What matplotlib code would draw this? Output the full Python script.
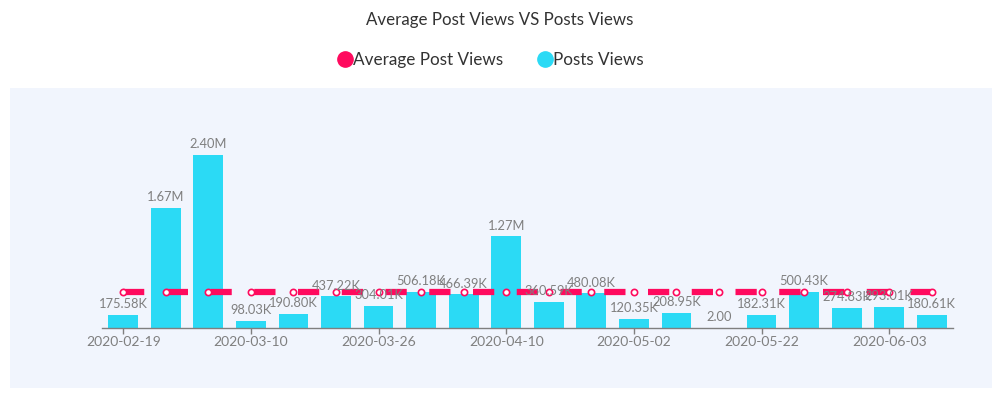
import matplotlib
matplotlib.use("Agg")
import matplotlib.pyplot as plt
from matplotlib.patches import Rectangle
from matplotlib.lines import Line2D
import numpy as np

dates = ["2020-02-19", "2020-02-26", "2020-03-03", "2020-03-10", "2020-03-14",
         "2020-03-19", "2020-03-26", "2020-03-30", "2020-04-05", "2020-04-10",
         "2020-04-16", "2020-04-24", "2020-05-02", "2020-05-09", "2020-05-16",
         "2020-05-22", "2020-05-27", "2020-05-30", "2020-06-03", "2020-06-08"]
posts_views = [175.58e3, 1.67e6, 2.40e6, 98.03e3, 190.80e3, 437.22e3, 304.01e3,
               506.18e3, 466.39e3, 1.27e6, 360.59e3, 480.08e3, 120.35e3, 208.95e3,
               2.00, 182.31e3, 500.43e3, 274.83e3, 293.01e3, 180.61e3]
avg_views = [505.97e3] * 20
labels = ["175.58K", "1.67M", "2.40M", "98.03K", "190.80K", "437.22K", "304.01K",
          "506.18K", "466.39K", "1.27M", "360.59K", "480.08K", "120.35K", "208.95K",
          "2.00", "182.31K", "500.43K", "274.83K", "293.01K", "180.61K"]
tick_idx = [0, 3, 6, 9, 12, 15, 18]

plt.rcParams['font.family'] = ['Lato', 'DejaVu Sans']

W, H = 1000, 394
fig = plt.figure(figsize=(W / 100, H / 100), dpi=100)
fig.patch.set_facecolor("white")

# panel background
bg = Rectangle((10 / W, 1 - 388 / H), 982 / W, 300 / H,
               transform=fig.transFigure, facecolor="#F1F5FD",
               edgecolor="none", zorder=-10)
fig.patches.append(bg)

ymax = 2.8e6
top_px = 328 - 2.8 * 72.1
ax = fig.add_axes([102 / W, 1 - 328 / H, 851 / W, (328 - top_px) / H])
ax.set_facecolor("none")
ax.set_zorder(1)

x = np.arange(len(posts_views))
ax.bar(x, posts_views, width=0.7, color="#2BDAF5", zorder=2)
ax.plot(x, avg_views, color="#FF0A5E", lw=4.5, dashes=(3.4, 3.6), zorder=3,
        solid_capstyle="butt", dash_capstyle="butt",
        marker="o", markersize=4.5, markerfacecolor="white",
        markeredgecolor="#FF0A5E", markeredgewidth=1.2)

for xi, v, lab in zip(x, posts_views, labels):
    ax.annotate(lab, (xi, v), xytext=(0, 3.5), textcoords="offset points",
                ha="center", va="bottom", color="#7F7F7F", fontsize=9.3, zorder=4)

ax.set_xlim(-0.5, len(x) - 0.5)
ax.set_ylim(0, ymax)
ax.set_yticks([])
for s in ["top", "right", "left"]:
    ax.spines[s].set_visible(False)
ax.spines["bottom"].set_color("#7F7F7F")
ax.spines["bottom"].set_linewidth(1)
ax.set_xticks(tick_idx)
ax.set_xticklabels([dates[i] for i in tick_idx])
ax.tick_params(axis="x", colors="#7F7F7F", labelcolor="#7F7F7F", length=4,
               width=1, labelsize=10, pad=2)

fig.text(0.5, 1 - 20 / H, "Average Post Views VS Posts Views", ha="center",
         va="center", fontsize=12.2, color="#333333")

handles = [Line2D([], [], marker="o", linestyle="none", markersize=11,
                  markerfacecolor="#FF0A5E", markeredgecolor="#FF0A5E"),
           Line2D([], [], marker="o", linestyle="none", markersize=11,
                  markerfacecolor="#2BDAF5", markeredgecolor="#2BDAF5")]
fig.legend(handles, ["Average Post Views", "Posts Views"], loc="center",
           bbox_to_anchor=(0.49, 1 - 60 / H), ncol=2, frameon=False,
           fontsize=12.3, handletextpad=0.0, columnspacing=1.9,
           labelcolor="#333333", handlelength=1.0)

fig.savefig("out.png", dpi=100)
